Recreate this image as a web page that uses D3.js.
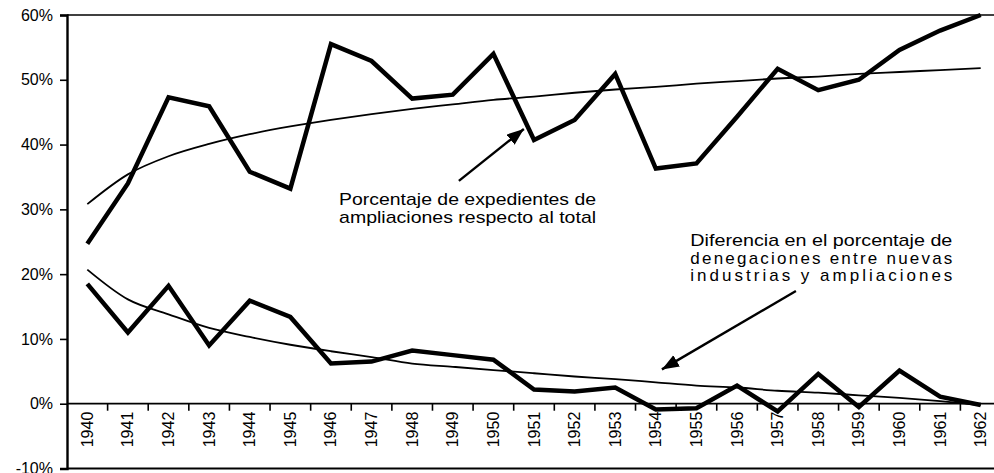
<!DOCTYPE html>
<html>
<head>
<meta charset="utf-8">
<script src="https://cdn.jsdelivr.net/npm/d3@7"></script>
<style>
  body { margin: 0; background: #fff; }
  svg { display: block; font-family: "Liberation Sans", Arial, sans-serif; }
</style>
</head>
<body>
<svg></svg>
<script>
// years on the x axis
const years = ['1940', '1941', '1942', '1943', '1944', '1945', '1946', '1947', '1948', '1949', '1950',
    '1951', '1952', '1953', '1954', '1955', '1956', '1957', '1958', '1959', '1960', '1961', '1962']

// % de expedientes de ampliaciones respecto al total
const ampliaciones = [24.7, 34.0, 47.3, 45.9, 35.8, 33.2, 55.5, 52.9, 47.1, 47.7, 54.0,
    40.7, 43.8, 50.9, 36.3, 37.1, 44.3, 51.7, 48.4, 50.0, 54.6, 57.6, 60.0]
const tendAmpliaciones = [30.8, 35.4, 38.2, 40.1, 41.6, 42.8, 43.8, 44.7, 45.5, 46.2, 46.9,
    47.4, 48.0, 48.5, 48.9, 49.4, 49.8, 50.2, 50.5, 50.9, 51.2, 51.5, 51.8]

// diferencia en el % de denegaciones
const diferencia = [18.5, 11.0, 18.2, 9.0, 15.9, 13.4, 6.2, 6.5, 8.2, 7.5, 6.8,
    2.2, 1.9, 2.5, -0.9, -0.7, 2.8, -1.2, 4.6, -0.5, 5.1, 1.1, -0.2]
const tendDiferencia = [20.7, 16.1, 13.8, 11.7, 10.3, 9.1, 8.1, 7.2, 6.2, 5.7, 5.2,
    4.7, 4.2, 3.8, 3.3, 2.8, 2.5, 2.0, 1.7, 1.3, 0.9, 0.4, -0.2]

const yTicks = [-10, 0, 10, 20, 30, 40, 50, 60]

// annotations, in data units (year, %)
const notes = [
    { lines: ['Porcentaje de expedientes de', 'ampliaciones respecto al total'], x: 1946.2, y: 30.6, width: 257,
      spaced: [false, false], from: [1949.15, 34.4], to: [1950.75, 42.4] },
    { lines: ['Diferencia en el porcentaje de', 'denegaciones entre nuevas', 'industrias y ampliaciones'], x: 1954.85, y: 24.3, width: 262,
      spaced: [false, true, true], from: [1957.45, 17.4], to: [1954.15, 5.3] }
]

const width = 994
const height = 473

const svg = d3.select('svg')
    .attr('width', width)
    .attr('height', height)

const x = d3.scaleLinear()
    .domain([1939.5, 1962.5])
    .range([67, 1001])

const y = d3.scaleLinear()
    .domain([-10, 60])
    .range([468.5, 15])

const defs = svg.append('defs')
defs.append('marker')
    .attr('id', 'head')
    .attr('markerUnits', 'userSpaceOnUse')
    .attr('markerWidth', 18)
    .attr('markerHeight', 14)
    .attr('refX', 17)
    .attr('refY', 6.5)
    .attr('orient', 'auto')
    .append('path')
    .attr('d', 'M0,0 L17,6.5 L0,13 Z')
    .attr('fill', '#000')

// frame
svg.append('line')
    .attr('x1', x.range()[0]).attr('x2', width)
    .attr('y1', y(60)).attr('y2', y(60))
    .attr('stroke', '#000').attr('stroke-width', 1.6)
svg.append('line')
    .attr('x1', x.range()[0]).attr('x2', width)
    .attr('y1', y(-10)).attr('y2', y(-10))
    .attr('stroke', '#000').attr('stroke-width', 2)

// y axis
const yAxis = svg.append('g')
    .attr('transform', `translate(${x.range()[0]},0)`)
    .call(d3.axisLeft(y).tickValues(yTicks).tickSize(7).tickPadding(7).tickFormat(d => d + '%'))
yAxis.select('.domain').attr('stroke-width', 2.4)
yAxis.selectAll('.tick line').attr('stroke-width', 1.6)
yAxis.selectAll('text')
    .attr('font-size', 16)
    .attr('font-family', '"Liberation Sans", Arial, sans-serif')
    .attr('fill', '#000')

// x axis on the 0% line, ticks between the years
const xAxis = svg.append('g')
    .attr('transform', `translate(0,${y(0)})`)
xAxis.append('line')
    .attr('x1', x.range()[0]).attr('x2', width)
    .attr('stroke', '#000').attr('stroke-width', 1.8)
xAxis.selectAll('.tk')
    .data(years.slice(1))
    .enter()
    .append('line')
    .attr('x1', d => x(+d - 0.5)).attr('x2', d => x(+d - 0.5))
    .attr('y1', 0).attr('y2', 7)
    .attr('stroke', '#000').attr('stroke-width', 1.6)
xAxis.selectAll('.yr')
    .data(years)
    .enter()
    .append('text')
    .attr('transform', d => `translate(${x(+d) + 5.5},8) rotate(-90)`)
    .attr('text-anchor', 'end')
    .attr('font-size', 16)
    .text(d => d)

// series
const line = d3.line()
    .x((d, i) => x(+years[i]))
    .y(d => y(d))
const smooth = d3.line()
    .x((d, i) => x(+years[i]))
    .y(d => y(d))
    .curve(d3.curveMonotoneX)

svg.append('path')
    .datum(tendAmpliaciones)
    .attr('d', smooth)
    .attr('fill', 'none').attr('stroke', '#000').attr('stroke-width', 1.8)
svg.append('path')
    .datum(tendDiferencia)
    .attr('d', smooth)
    .attr('fill', 'none').attr('stroke', '#000').attr('stroke-width', 1.8)
svg.append('path')
    .datum(ampliaciones)
    .attr('d', line)
    .attr('fill', 'none').attr('stroke', '#000').attr('stroke-width', 4.5)
svg.append('path')
    .datum(diferencia)
    .attr('d', line)
    .attr('fill', 'none').attr('stroke', '#000').attr('stroke-width', 4.5)

// annotations
notes.forEach(n => {
    svg.append('line')
        .attr('x1', x(n.from[0])).attr('y1', y(n.from[1]))
        .attr('x2', x(n.to[0])).attr('y2', y(n.to[1]))
        .attr('stroke', '#000').attr('stroke-width', 2.4)
        .attr('marker-end', 'url(#head)')
    n.lines.forEach((t, i) => {
        svg.append('text')
            .attr('x', x(n.x))
            .attr('y', y(n.y) + i * 17.5)
            .attr('font-size', 17)
            .attr('textLength', n.width)
            .attr('lengthAdjust', n.spaced[i] ? 'spacing' : 'spacingAndGlyphs')
            .text(t)
    })
})
</script>
</body>
</html>
